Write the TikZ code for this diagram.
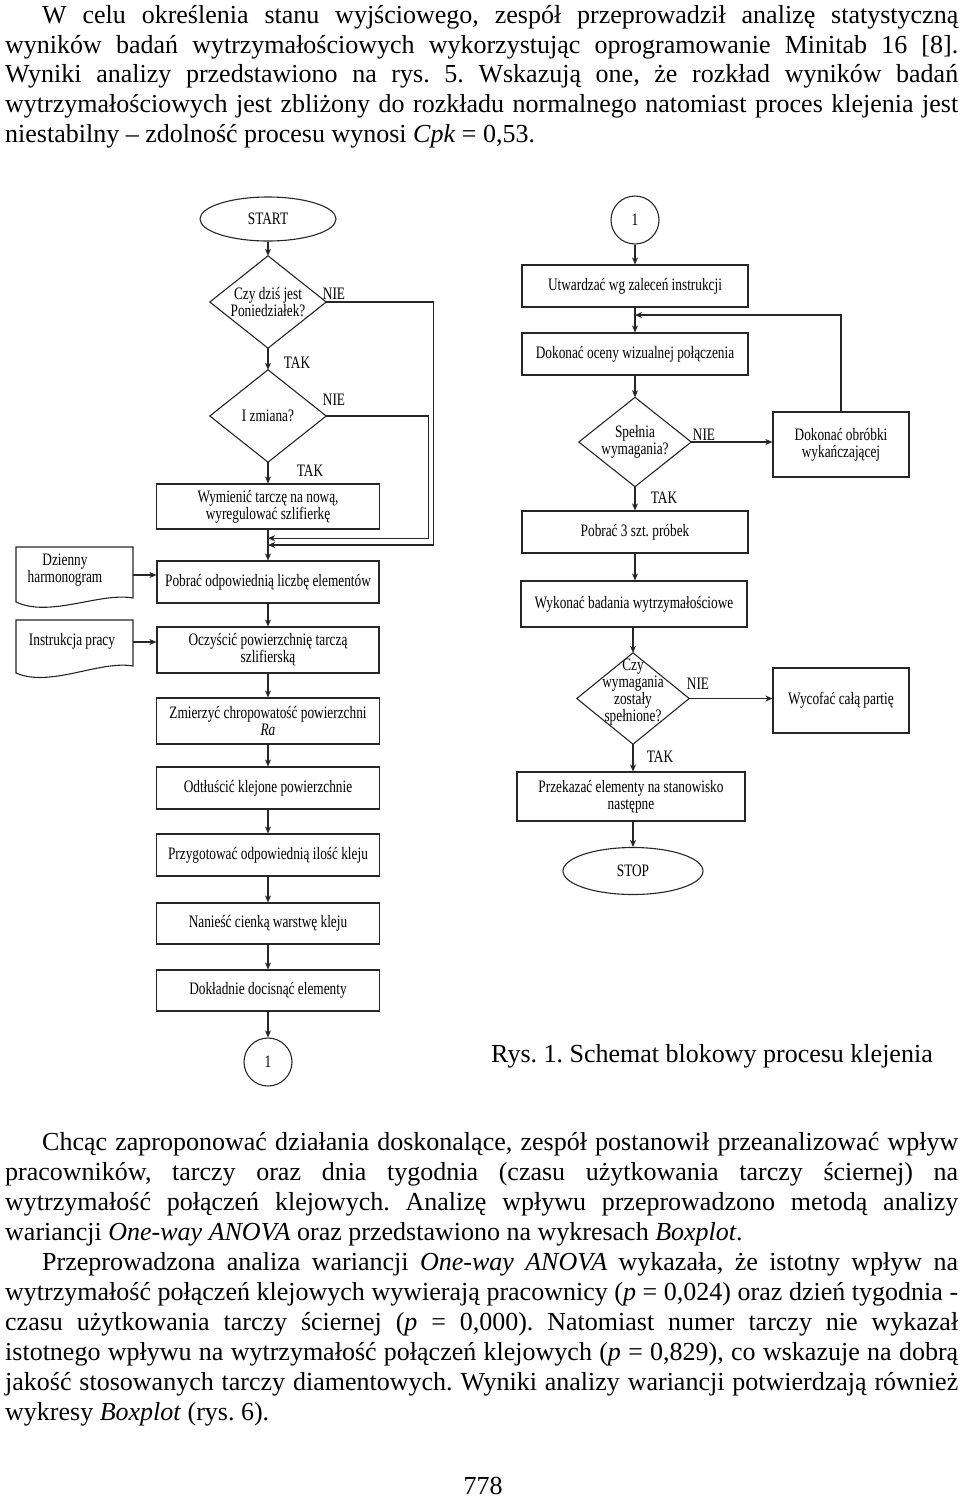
\documentclass[tikz,border=0pt]{standalone}
\usepackage{fontspec}
\setmainfont{Liberation Serif}
\newfontfamily\dfont{Liberation Serif}[FakeStretch=0.76]
\usetikzlibrary{shapes.geometric,arrows.meta,calc}
\begin{document}
\frenchspacing
\begin{tikzpicture}[x=1pt,y=-1pt,
  every node/.style={inner sep=0pt, text=black},
  dtext/.style={font=\dfont\fontsize{17.5}{17}\selectfont, align=center},
  box/.style={dtext, draw=black!85, line width=1.1pt},
  dia/.style={dtext, minimum width=116, minimum height=92},
  lab/.style={font=\dfont\fontsize{17.5}{18}\selectfont},
  ln/.style={draw=black!85, line width=1.1pt},
  arr/.style={ln, -{Stealth[length=7pt,width=6pt,inset=2pt]}},
  body/.style={font=\fontsize{26}{29.8}\selectfont, text width=953pt, align=justify, anchor=north west}
]
\useasboundingbox (0,0) rectangle (960,1497);

% ---------- text above ----------
\node[body] (p1) at (5,2.2) {\noindent\strut\hspace*{37pt}W celu określenia stanu wyjściowego, zespół przeprowadził analizę statystyczną\linebreak
wyników badań wytrzymałościowych wykorzystując oprogramowanie Minitab 16 [8].\linebreak
Wyniki analizy przedstawiono na rys. 5. Wskazują one, że rozkład wyników badań\linebreak
wytrzymałościowych jest zbliżony do rozkładu normalnego natomiast proces klejenia jest\linebreak
niestabilny – zdolność procesu wynosi \textit{Cpk} = 0,53.};

% ---------- left column ----------
\node[box,ellipse,minimum width=136,minimum height=44] (start) at (268,219) {START};
\node[dia] (d1) at (268,302) {Czy dziś jest\\Poniedziałek?};
\node[dia] (d2) at (268,416) {I zmiana?};
\node[box,minimum width=223,minimum height=45] (b1) at (268,506.5) {Wymienić tarczę na nową,\\wyregulować szlifierkę};
\node[box,minimum width=222,minimum height=42] (b2) at (268,582) {Pobrać odpowiednią liczbę elementów};
\node[box,minimum width=222,minimum height=46] (b3) at (268,650) {Oczyścić powierzchnię tarczą\\szlifierską};
\node[box,minimum width=223,minimum height=46] (b4) at (268,721) {Zmierzyć chropowatość powierzchni\\\textit{Ra}};
\node[box,minimum width=223,minimum height=42] (b5) at (268,788) {Odtłuścić klejone powierzchnie};
\node[box,minimum width=223,minimum height=42] (b6) at (268,855) {Przygotować odpowiednią ilość kleju};
\node[box,minimum width=223,minimum height=41] (b7) at (268,923.5) {Nanieść cienką warstwę kleju};
\node[box,minimum width=223,minimum height=41] (b8) at (268,990.5) {Dokładnie docisnąć elementy};
\node[box,circle,minimum size=48] (c1) at (268,1062) {1};

% documents
\node[minimum width=117,minimum height=56] (doc1) at (74.5,575) {};
\node[dtext] (doc1t) at (65,570) {Dzienny\\harmonogram};
\draw[ln] (16,547) -- (133,547) -- (133,598) .. controls (100,592) and (50,618) .. (16,602) -- cycle;
\node[minimum width=117,minimum height=44] (doc2) at (74.5,642) {};
\node[dtext] (doc2t) at (72,641) {Instrukcja pracy};
\draw[ln] (16,620) -- (133,620) -- (133,666) .. controls (100,660) and (50,688) .. (16,673) -- cycle;

% ---------- right column ----------
\node[box,circle,minimum size=48] (c2) at (635,220) {1};
\node[box,minimum width=226,minimum height=42] (r1) at (635,286) {Utwardzać wg zaleceń instrukcji};
\node[box,minimum width=226,minimum height=42] (r2) at (635,354) {Dokonać oceny wizualnej połączenia};
\node[dia,minimum width=112,minimum height=89] (d3) at (635,442) {Spełnia\\wymagania?};
\node[box,minimum width=136,minimum height=65] (r3) at (841,444.5) {Dokonać obróbki\\wykańczającej};
\node[box,minimum width=226,minimum height=42] (r4) at (635,532) {Pobrać 3 szt. próbek};
\node[box,minimum width=226,minimum height=46] (r5) at (634,604) {Wykonać badania wytrzymałościowe};
\node[dia,minimum width=112,minimum height=91,font=\dfont\fontsize{17.5}{16.5}\selectfont] (d4) at (633,698.5)
  {\raisebox{0pt}[\dimexpr\height-12pt\relax][\depth]{\begin{tabular}{@{}c@{}}Czy\\wymagania\\zostały\\spełnione?\end{tabular}}};
\node[box,minimum width=136,minimum height=65] (r6) at (841,700.5) {Wycofać całą partię};
\node[box,minimum width=228,minimum height=49] (r7) at (631,796.5) {Przekazać elementy na stanowisko\\następne};
\node[box,ellipse,minimum width=140,minimum height=47] (stop) at (633,871) {STOP};

% diamond outlines
\foreach \n in {d1,d2,d3,d4}
  \draw[ln] (\n.north) -- (\n.east) -- (\n.south) -- (\n.west) -- cycle;

% ---------- connectors left ----------
\draw[arr] (start) -- (d1);
\draw[arr] (d1) -- (d2);
\draw[arr] (d2) -- (b1);
\draw[arr] (b1) -- (b2);
\draw[arr] (b2) -- (b3);
\draw[arr] (b3) -- (b4);
\draw[arr] (b4) -- (b5);
\draw[arr] (b5) -- (b6);
\draw[arr] (b6) -- (b7);
\draw[arr] (b7) -- (b8);
\draw[arr] (b8) -- (c1);
\coordinate (m1) at ($(b1.south)!0.5!(b2.north)$);
\coordinate (m2) at ($(b1.south)!0.28!(b2.north)$);
\draw[arr] (d1.east) -- ++(107,0) |- (m1);
\draw[arr] (d2.east) -- ++(102,0) |- (m2);
\draw[arr] (doc1.east) -- (doc1.east -| b2.west);
\draw[arr] (doc2.east) -- (doc2.east -| b3.west);

% ---------- connectors right ----------
\draw[arr] (c2) -- (r1);
\draw[arr] (r1) -- (r2);
\draw[arr] (r2) -- (d3);
\coordinate (fb) at ($(r1.south)!0.3!(r2.north)$);
\draw[arr] (r3.north) |- (fb);
\draw[arr] (d3.east) -- (d3.east -| r3.west);
\draw[arr] (d3) -- (r4);
\draw[arr] (r4.south) -- (r4.south |- r5.north);
\draw[arr] (d4.north |- r5.south) -- (d4.north);
\draw[arr] (d4.east) -- (d4.east -| r6.west);
\draw[arr] (d4.south) -- (d4.south |- r7.north);
\draw[arr] (stop.north |- r7.south) -- (stop.north);

% labels
\node[lab] (nie1) at (334,294) {NIE};
\node[lab] (tak1) at (297,363) {TAK};
\node[lab] (nie2) at (334,400) {NIE};
\node[lab] (tak2) at (310,471) {TAK};
\node[lab] (nie3) at (704,435) {NIE};
\node[lab] (tak3) at (664,498) {TAK};
\node[lab] (nie4) at (698,684) {NIE};
\node[lab] (tak4) at (660,757) {TAK};

% caption
\node[font=\fontsize{26}{30}\selectfont, anchor=base west] (cap) at (491,1062) {Rys. 1. Schemat blokowy procesu klejenia};

% ---------- text below ----------
\node[body,font=\fontsize{26}{30}\selectfont] (p2) at (5,1129.1) {\noindent\strut\hspace*{37pt}Chcąc zaproponować działania doskonalące, zespół postanowił przeanalizować wpływ\linebreak
pracowników, tarczy oraz dnia tygodnia (czasu użytkowania tarczy ściernej) na\linebreak
wytrzymałość połączeń klejowych. Analizę wpływu przeprowadzono metodą analizy\linebreak
wariancji \textit{One-way ANOVA} oraz przedstawiono na wykresach \textit{Boxplot}.};
\node[body,font=\fontsize{26}{30}\selectfont] (p3) at (5,1249.1) {\noindent\strut\hspace*{37pt}Przeprowadzona analiza wariancji \textit{One-way ANOVA} wykazała, że istotny wpływ na\linebreak
wytrzymałość połączeń klejowych wywierają pracownicy (\textit{p} = 0,024) oraz dzień tygodnia -\linebreak
czasu użytkowania tarczy ściernej (\textit{p} = 0,000). Natomiast numer tarczy nie wykazał\linebreak
istotnego wpływu na wytrzymałość połączeń klejowych (\textit{p} = 0,829), co wskazuje na dobrą\linebreak
jakość stosowanych tarczy diamentowych. Wyniki analizy wariancji potwierdzają również\linebreak
wykresy \textit{Boxplot} (rys. 6).};

\node[font=\fontsize{26}{30}\selectfont, anchor=base] (pg) at (483,1494) {778};
\end{tikzpicture}
\end{document}
